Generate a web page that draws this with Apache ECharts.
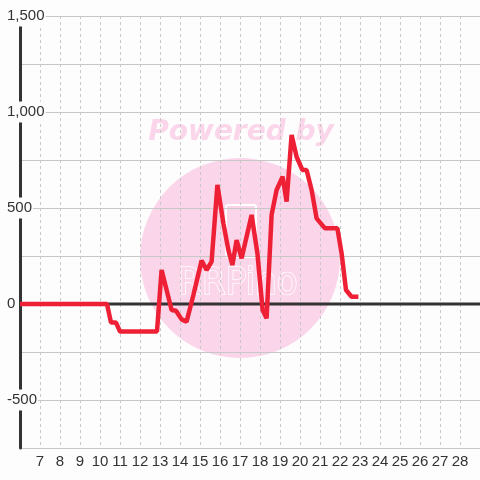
<!DOCTYPE html>
<html>
<head>
<meta charset="utf-8">
<script src="https://cdn.jsdelivr.net/npm/echarts@6/dist/echarts.min.js"></script>
<style>
    html, body { margin: 0; padding: 0; background: #fcfdfc; }
    #chart { width: 480px; height: 480px; }
</style>
</head>
<body>
<div id="chart"></div>
<script>
    // values
    const xValues = [6, 10.35, 10.55, 10.8, 11, 12.85, 13.08, 13.58, 13.8, 14.08, 14.33, 14.67, 15.08, 15.33, 15.58,
        15.87, 16.17, 16.42, 16.62, 16.83, 17.08, 17.58, 17.87, 18.13, 18.33, 18.58, 18.83, 19.13, 19.33, 19.58,
        19.83, 20.12, 20.33, 20.58, 20.83, 21.25, 21.87, 22.08, 22.3, 22.58, 22.92];
    const yValues = [0, 0, -97, -97, -143, -143, 177, -31, -35, -80, -92, 47, 226, 177, 221,
        620, 420, 281, 203, 333, 238, 464, 264, -31, -75, 464, 594, 663, 533, 880,
        767, 698, 698, 594, 446, 394, 394, 264, 73, 38, 38];
    const xRange = [6, 29];
    const yRange = [-750, 1500];
    const yLabelStep = 500;

    const bg = '#fcfdfc';
    const pink = '#fbd5ea';

    const option = {
        backgroundColor: bg,
        animation: false,
        grid: { left: 20, right: 0, top: 16, bottom: 32 },
        graphic: [
            { type: 'circle', shape: { cx: 240, cy: 258, r: 100 }, style: { fill: pink }, z: -10 },
            {
                type: 'text', x: 241, y: 133, z: -10,
                style: {
                    text: 'Powered by', fill: pink, align: 'center', verticalAlign: 'middle',
                    font: 'italic bold 28px "DejaVu Sans"'
                }
            },
            {
                type: 'rect', shape: { x: 226, y: 205, width: 30, height: 52, r: 2 }, z: -9,
                style: { fill: 'none', stroke: '#ffffff', lineWidth: 2 }
            },
            {
                type: 'text', x: 238, y: 284, z: -9,
                style: {
                    text: 'RRPino', fill: pink, stroke: '#ffffff', lineWidth: 1.5,
                    align: 'center', verticalAlign: 'middle', font: '38px "DejaVu Sans Condensed"'
                }
            }
        ],
        xAxis: {
            type: 'value', min: xRange[0], max: xRange[1], interval: 1,
            axisLine: { show: false, onZero: false },
            axisTick: { show: false },
            splitLine: { show: true, lineStyle: { color: '#c8c8c8', type: [3, 3], width: 1 } },
            axisLabel: {
                color: '#333', fontSize: 15, fontFamily: 'Liberation Sans', margin: 6,
                showMinLabel: false, showMaxLabel: false
            }
        },
        yAxis: {
            type: 'value', min: yRange[0], max: yRange[1], interval: 250,
            axisLine: { show: true, lineStyle: { color: '#333', width: 3 } },
            axisTick: { show: false },
            splitLine: { show: true, lineStyle: { color: '#c8c8c8', width: 1 } },
            axisLabel: {
                align: 'left', margin: 14,
                formatter: function (v) {
                    if (v % yLabelStep !== 0) return '';
                    return '{a|' + v.toLocaleString('en-US') + '}';
                },
                rich: {
                    a: {
                        color: '#333', fontSize: 15, fontFamily: 'Liberation Sans',
                        backgroundColor: bg, padding: [3, 1]
                    }
                }
            }
        },
        series: [
            {
                // zero line
                type: 'line',
                data: [[xRange[0], 0], [xRange[1], 0]],
                showSymbol: false,
                silent: true,
                lineStyle: { color: '#333', width: 3 },
                z: 1
            },
            {
                type: 'line',
                data: xValues.map((x, i) => [x, yValues[i]]),
                showSymbol: false,
                lineStyle: { color: '#ee2035', width: 4.5 },
                z: 2
            }
        ]
    };

    const chart = echarts.init(document.getElementById('chart'));
    chart.setOption(option);
</script>
</body>
</html>
